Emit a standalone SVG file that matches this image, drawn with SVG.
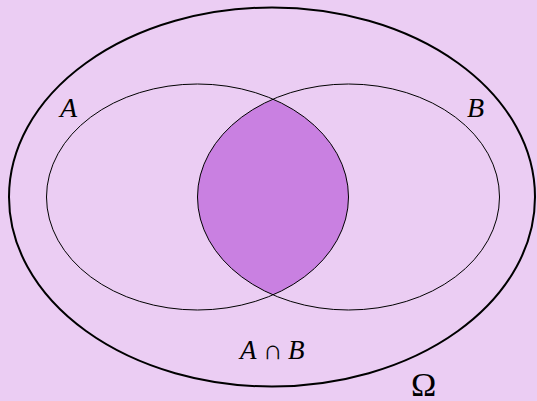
<svg xmlns="http://www.w3.org/2000/svg" width="537" height="401" viewBox="0 0 537 401">
<style>
.set{fill:none;stroke:#000;stroke-width:1}
.lbl{font-family:"Liberation Serif","DejaVu Serif",serif;font-style:italic;font-size:28px;fill:#000}
</style>
<rect width="537" height="401" fill="#ebcdf3"/>
<g id="intersection">
<path d="M273 99.14 A151 113 0 0 1 273 294.86 A151 113 0 0 1 273 99.14 Z" fill="#c980e1" stroke="none"/>
</g>
<g id="omega">
<ellipse cx="272" cy="197" rx="263" ry="189.5" fill="none" stroke="#000" stroke-width="2"/>
<text x="411" y="396" style="font-family:'Liberation Serif','DejaVu Serif',serif;font-size:34px">Ω</text>
</g>
<g id="setA">
<ellipse class="set" cx="197.5" cy="197" rx="151" ry="113"/>
<text class="lbl" x="60" y="117">A</text>
</g>
<g id="setB">
<ellipse class="set" cx="348.5" cy="197" rx="151" ry="113"/>
<text class="lbl" x="467" y="117">B</text>
</g>
<g id="label-AB">
<text y="358.5" style="font-family:'Liberation Serif','DejaVu Serif',serif;font-size:27px"><tspan x="240" font-style="italic">A</tspan><tspan x="263">∩</tspan><tspan x="288" font-style="italic">B</tspan></text>
</g>
</svg>
